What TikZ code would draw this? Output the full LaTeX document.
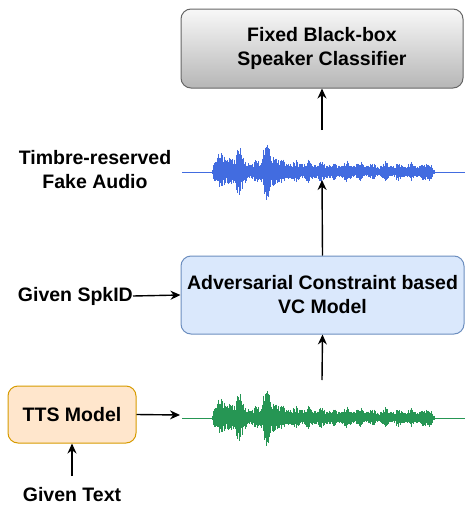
\documentclass[tikz,border=0pt]{standalone}
\usepackage{fontspec}
\setmainfont{Liberation Sans}
\usetikzlibrary{arrows.meta}
\definecolor{wblue}{RGB}{66,108,224}
\definecolor{wgreen}{RGB}{38,150,84}
\definecolor{grayTop}{RGB}{248,248,248}
\definecolor{grayBot}{RGB}{182,182,182}
\definecolor{grayLine}{RGB}{102,102,102}
\definecolor{blueFill}{RGB}{218,232,252}
\definecolor{blueLine}{RGB}{108,142,191}
\definecolor{orFill}{RGB}{255,230,204}
\definecolor{orLine}{RGB}{215,155,0}
\newcommand{\drawwave}[3]{%
  \pgfmathsetseed{#3}%
  \draw[#2, line width=0.5pt] (182,#1) -- (465,#1);
  \foreach \u in {0,0.6,...,223}{%
    \pgfmathsetmacro\e{min(1,\u/2.5,(223-\u)/2.5)*(6+4*max(0,1-\u/180)+5*sin(\u*14)^4)
      +24*max(0,1-abs(\u-27)/5)+28*max(0,1-abs(\u-54)/5)
      +7*max(0,1-abs(\u-62)/9)
      +8*max(0,1-abs(\u-10)/10)+5*max(0,1-abs(\u-218)/3)}%
    \pgfmathsetmacro\ta{\e*(0.45+0.55*rnd)}%
    \pgfmathsetmacro\tb{\e*(0.45+0.55*rnd)*0.85}%
    \draw[#2, line width=0.7pt] (212+\u,#1-\ta) -- (212+\u,#1+\tb);
  }%
}
\begin{document}
\begin{tikzpicture}[x=1pt,y=-1pt,
  lbl/.style={font=\fontsize{19.5}{24}\selectfont\bfseries, inner sep=0pt, align=center},
  box/.style={lbl, rounded corners=10pt, line width=1pt},
  arr/.style={-{Stealth[length=10pt,width=9pt]}, line width=1.4pt}]
\useasboundingbox (0,0) rectangle (465,506);
% boxes
\node[box, draw=grayLine, top color=grayTop, bottom color=grayBot,
      minimum width=282pt, minimum height=79pt] (cls) at (322,48.5)
      {Fixed Black-box\\Speaker Classifier};
\node[box, draw=blueLine, fill=blueFill,
      minimum width=283pt, minimum height=78pt] (vc) at (322.5,295)
      {Adversarial Constraint based\\VC Model};
\node[box, draw=orLine, fill=orFill,
      minimum width=128pt, minimum height=57pt] (tts) at (72,414.5)
      {TTS Model};
% labels
\node[lbl] (fake) at (95,170) {Timbre-reserved\\Fake Audio};
\node[lbl, anchor=east] (spk) at (133,296) {Given SpkID};
\node[lbl] (txt) at (72,495) {Given Text};
% waveforms
\drawwave{172}{wblue}{7}
\drawwave{418}{wgreen}{7}
\coordinate (bwtop) at (322,130);
\coordinate (bwbot) at (322,180);
\coordinate (gwin) at (180,415);
\coordinate (gwtop) at (322,380);
\coordinate (txttop) at (72,476);
% arrows
\draw[arr] (bwtop) -- (cls.south);
\draw[arr] (vc.north) -- (bwbot);
\draw[arr] (gwtop) -- (vc.south);
\draw[arr] (spk.east) -- (vc.west);
\draw[arr] (tts.east) -- (gwin);
\draw[arr] (txttop) -- (tts.south);
\end{tikzpicture}
\end{document}
